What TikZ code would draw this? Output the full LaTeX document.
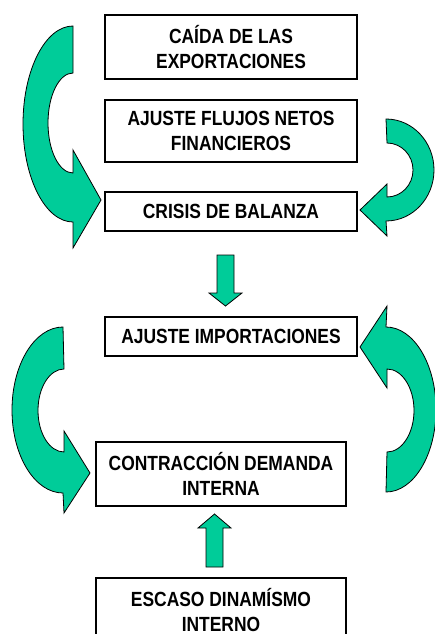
\documentclass[tikz,border=0pt]{standalone}
\usepackage{fontspec}
\newfontfamily\boxfont[FakeStretch=0.85]{Liberation Sans Bold}
\definecolor{arrgreen}{RGB}{0,204,153}
\tikzset{
  box/.style={draw=black, line width=1.1pt, fill=white, rectangle, align=center,
    font=\boxfont\fontsize{20.5}{25}\selectfont, inner sep=0pt},
  blockarrow/.style={fill=arrgreen, draw=black, line width=0.8pt, line join=miter}
}
\begin{document}
\begin{tikzpicture}[x=1pt,y=-1pt]
\useasboundingbox (0,0) rectangle (435,634);
\clip (0,0) rectangle (435,634);

% boxes
\node[box, minimum width=252, minimum height=64] (caida) at (231,47) {CAÍDA DE LAS\\EXPORTACIONES};
\node[box, minimum width=252, minimum height=62] (ajflujos) at (231,131) {AJUSTE FLUJOS NETOS\\FINANCIEROS};
\node[box, minimum width=252, minimum height=39] (crisis) at (231,211.5) {CRISIS DE BALANZA};
\node[box, minimum width=252, minimum height=39] (ajimp) at (231,336.5) {AJUSTE IMPORTACIONES};
\node[box, minimum width=250, minimum height=64] (contr) at (221,474) {CONTRACCIÓN DEMANDA\\INTERNA};
\node[box, minimum width=250, minimum height=64] (escaso) at (221,610) {ESCASO DINAMÍSMO\\INTERNO};

% curved arrow, top left
\draw[blockarrow] (73,26) arc[start angle=270, end angle=90, x radius=50, y radius=98]
  -- (73,248) -- (101,200) -- (73,150) -- (73,173)
  arc[start angle=90, end angle=270, x radius=25, y radius=50] -- cycle;

% curved arrow, top right
\draw[blockarrow] (386,119) arc[start angle=270, end angle=450, x radius=48, y radius=51]
  -- (387,236) -- (360,210) -- (387,184) -- (387,197)
  arc[start angle=90, end angle=-90, x radius=26, y radius=27] -- cycle;

% curved arrow, bottom left
\draw[blockarrow] (63,327) arc[start angle=270, end angle=90, x radius=51, y radius=83]
  -- (64,513) -- (90,473) -- (64,431) -- (64,452)
  arc[start angle=90, end angle=270, x radius=26, y radius=41.5] -- cycle;

% curved arrow, bottom right
\draw[blockarrow] (386,492) arc[start angle=90, end angle=-90, x radius=50, y radius=82.5]
  -- (387,306) -- (360,347) -- (387,388) -- (387,369)
  arc[start angle=-90, end angle=90, x radius=27, y radius=41.5] -- cycle;

% straight down arrow
\draw[blockarrow] (217,255) -- (234,255) -- (234,293) -- (242,293) -- (225.5,306)
  -- (209,293) -- (217,293) -- cycle;

% straight up arrow
\draw[blockarrow] (206,567) -- (223,567) -- (223,528) -- (231,528) -- (214.5,514)
  -- (198,528) -- (206,528) -- cycle;
\end{tikzpicture}
\end{document}
